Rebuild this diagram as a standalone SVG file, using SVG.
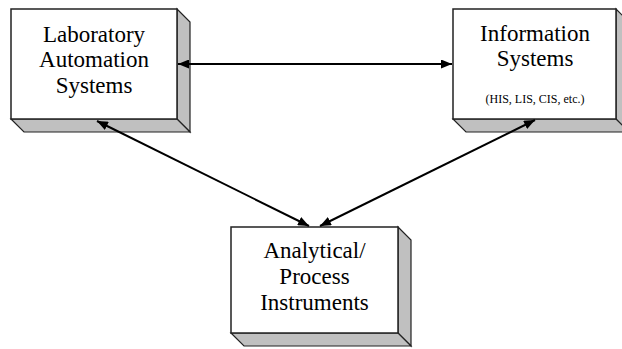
<svg xmlns="http://www.w3.org/2000/svg" width="622" height="349" viewBox="0 0 622 349">
<defs>
<marker id="ah" viewBox="0 0 11 9" refX="11" refY="4.5" markerWidth="11" markerHeight="9" markerUnits="userSpaceOnUse" orient="auto-start-reverse">
<path d="M0,0 L11,4.5 L0,9 Z" fill="#000"/>
</marker>
</defs>
<style>
.face{fill:#fff;stroke:#222;stroke-width:1.5}
.side{fill:#c0c0c0;stroke:#222;stroke-width:1.2}
.t{font-family:"Liberation Serif","Times New Roman",serif;font-size:23px;fill:#000;text-anchor:middle}
.s{font-family:"Liberation Serif","Times New Roman",serif;font-size:12px;fill:#000;text-anchor:middle}
.c{stroke:#000;stroke-width:2;fill:none}
</style>
<rect width="622" height="349" fill="#fff"/>
<g id="lab">
<polygon class="side" points="177,9 190,22 190,132 177,119"/>
<polygon class="side" points="11,119 24,132 190,132 177,119"/>
<rect class="face" x="11" y="9" width="166" height="110"/>
<text class="t" x="94" y="42">Laboratory</text>
<text class="t" x="94" y="67">Automation</text>
<text class="t" x="94" y="93">Systems</text>
</g>
<g id="info">
<polygon class="side" points="616,9 629,22 629,132 616,119"/>
<polygon class="side" points="453,119 466,132 629,132 616,119"/>
<rect class="face" x="453" y="9" width="163" height="110"/>
<text class="t" x="535" y="41">Information</text>
<text class="t" x="535" y="66">Systems</text>
<text class="s" x="535" y="103">(HIS, LIS, CIS, etc.)</text>
</g>
<g id="analytical">
<polygon class="side" points="398,227 411,240 411,346 398,333"/>
<polygon class="side" points="231,333 244,346 411,346 398,333"/>
<rect class="face" x="231" y="227" width="167" height="106"/>
<text class="t" x="314.5" y="258">Analytical/</text>
<text class="t" x="314.5" y="284">Process</text>
<text class="t" x="314.5" y="310">Instruments</text>
</g>
<g id="connectors">
<line class="c" x1="178" y1="64" x2="452" y2="64" marker-start="url(#ah)" marker-end="url(#ah)"/>
<line class="c" x1="97" y1="121" x2="309" y2="226" marker-start="url(#ah)" marker-end="url(#ah)"/>
<line class="c" x1="320" y1="226" x2="535" y2="120" marker-start="url(#ah)" marker-end="url(#ah)"/>
</g>
</svg>
